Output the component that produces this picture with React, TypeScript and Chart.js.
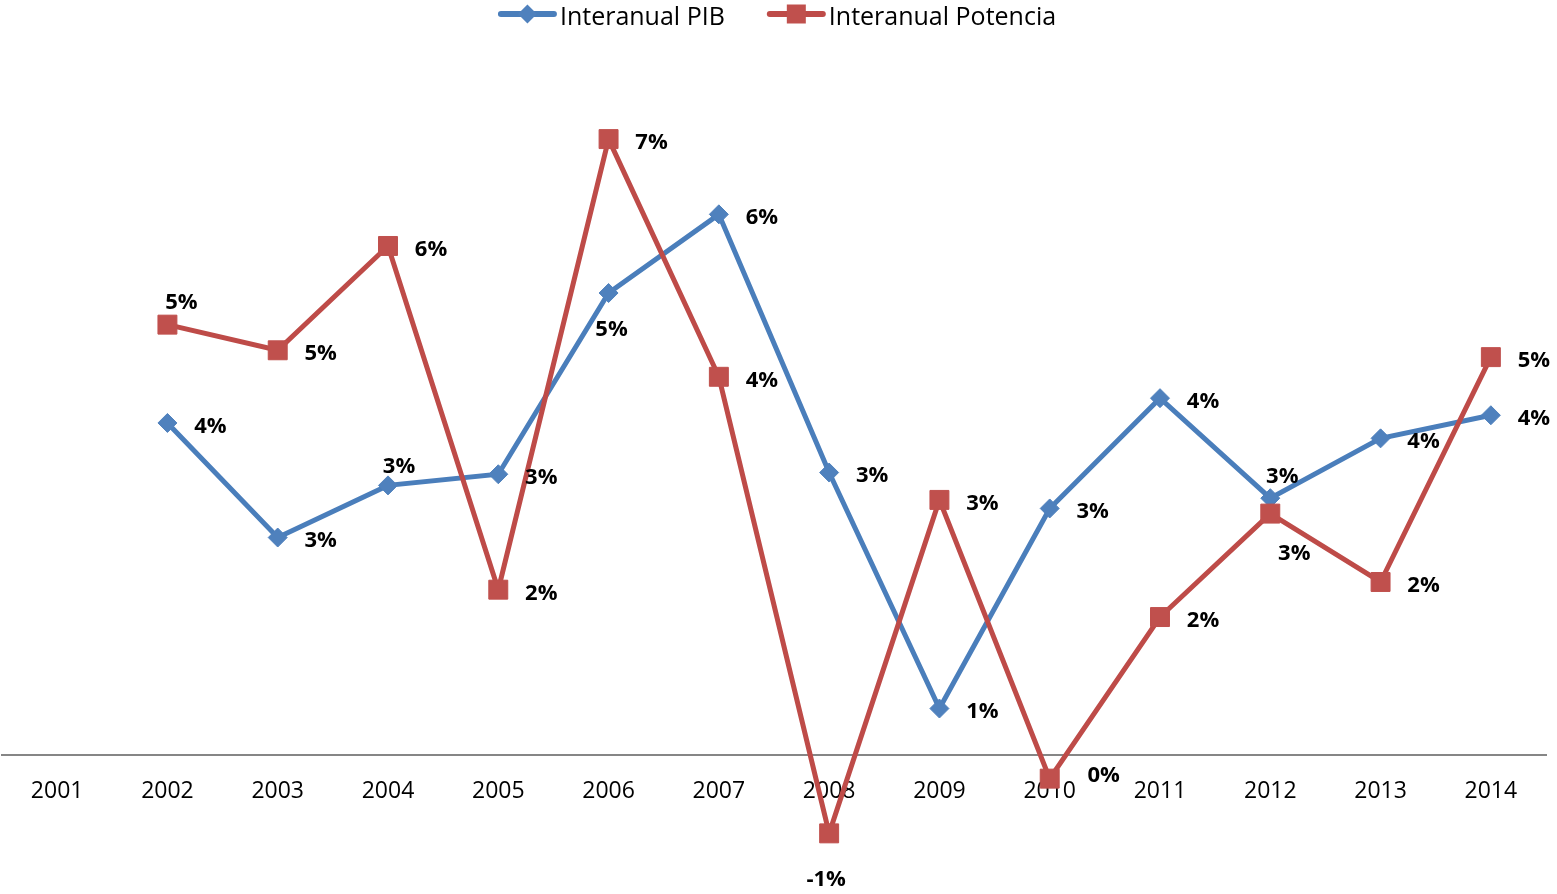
import React, { useEffect, useRef } from 'react';
import { Chart, registerables } from 'chart.js';

Chart.register(...registerables);

// ---------- data ----------
const years = ['2001', '2002', '2003', '2004', '2005', '2006', '2007', '2008', '2009', '2010', '2011', '2012', '2013', '2014'];
const pibInteranual: (number | null)[] = [null, 3.88, 2.54, 3.15, 3.28, 5.4, 6.32, 3.3, 0.54, 2.88, 4.17, 3.0, 3.7, 3.97];
const potenciaInteranual: (number | null)[] = [null, 5.03, 4.73, 5.95, 1.93, 7.2, 4.42, -0.92, 2.98, -0.28, 1.61, 2.82, 2.02, 4.65];
const seriesLabels = ['Interanual PIB', 'Interanual Potencia'];
const yAxisMin = -1;
const yAxisMax = 8;

// ---------- styles ----------
const BLUE = '#4A7EBB';
const RED = '#BE4B48';
const FONT = '"Open Sans", "Noto Sans", sans-serif';

// label placement relative to each point (null = default, right of the point)
const R = null;
const DEFAULT_OFFSET: [number, number] = [43, 2];
const pibLabelOffsets: ([number, number] | null)[] = [R, R, R, [11, -20], R, [3, 35], R, R, R, R, R, [12, -23], R, R];
const potenciaLabelOffsets: ([number, number] | null)[] = [R, [14, -23], R, R, R, R, R, [-3, 45], R, [54, -4], R, [24, 39], R, R];
const labelOffsets = [pibLabelOffsets, potenciaLabelOffsets];

const fmtPct = (v: number) => `${Math.round(v) + 0}%`;

function drawMarker(ctx: CanvasRenderingContext2D, style: string, color: string, x: number, y: number) {
  ctx.fillStyle = color;
  ctx.beginPath();
  if (style === 'rectRot') {
    const r = 9.5;
    ctx.moveTo(x - r, y);
    ctx.lineTo(x, y - r);
    ctx.lineTo(x + r, y);
    ctx.lineTo(x, y + r);
    ctx.closePath();
  } else {
    const h = 9.5;
    ctx.rect(x - h, y - h, 2 * h, 2 * h);
  }
  ctx.fill();
}

const dataLabelPlugin = {
  id: 'pctLabels',
  afterDatasetsDraw(chart: any) {
    const ctx: CanvasRenderingContext2D = chart.ctx;
    const size = 22;
    ctx.save();
    ctx.font = `bold ${size}px ${FONT}`;
    ctx.fillStyle = '#000';
    ctx.textAlign = 'center';
    ctx.textBaseline = 'alphabetic';
    chart.data.datasets.forEach((ds: any, di: number) => {
      const meta = chart.getDatasetMeta(di);
      meta.data.forEach((el: any, i: number) => {
        const v = ds.data[i];
        if (v === null || v === undefined) return;
        const [dx, dy] = labelOffsets[di][i] || DEFAULT_OFFSET;
        ctx.fillText(fmtPct(v), el.x + dx, el.y + dy + size * 0.357);
      });
    });
    ctx.restore();
  },
};

const legendPlugin = {
  id: 'lineMarkerLegend',
  afterDraw(chart: any) {
    const ctx: CanvasRenderingContext2D = chart.ctx;
    const size = 25;
    const lineLen = 59;
    const textGap = 3;
    const itemGap = 42;
    ctx.save();
    ctx.font = `${size}px ${FONT}`;
    const datasets = [...chart.data.datasets];
    const items = datasets.map((ds: any) => ({ ds, tw: ctx.measureText(ds.label).width }));
    const total = items.reduce((s: number, it: any) => s + lineLen + textGap + it.tw, 0) + itemGap * (items.length - 1);
    let x = chart.width / 2 - 1.5 - total / 2;
    const yLine = 14;
    const yText = 25;
    items.forEach(({ ds, tw }: any) => {
      ctx.strokeStyle = ds.borderColor;
      ctx.lineWidth = 6;
      ctx.lineCap = 'round';
      ctx.beginPath();
      ctx.moveTo(x + 3, yLine);
      ctx.lineTo(x + lineLen - 3, yLine);
      ctx.stroke();
      drawMarker(ctx, ds.pointStyle, ds.pointBackgroundColor, x + lineLen / 2, yLine);
      ctx.fillStyle = '#000';
      ctx.textAlign = 'left';
      ctx.textBaseline = 'alphabetic';
      ctx.fillText(ds.label, x + lineLen + textGap, yText);
      x += lineLen + textGap + tw + itemGap;
    });
    ctx.restore();
  },
};

export default function App() {
  const canvasRef = useRef<HTMLCanvasElement | null>(null);

  useEffect(() => {
    if (!canvasRef.current) return;
    const chart = new Chart(canvasRef.current, {
      type: 'line',
      data: {
        labels: years,
        datasets: [
          {
            label: seriesLabels[0],
            data: pibInteranual,
            borderColor: BLUE,
            backgroundColor: BLUE,
            borderWidth: 5,
            pointStyle: 'rectRot',
            pointRadius: 9.5,
            pointBorderWidth: 1,
            pointBackgroundColor: '#4F81BD',
            pointBorderColor: '#4F81BD',
            tension: 0,
            clip: false,
            order: 1,
          },
          {
            label: seriesLabels[1],
            data: potenciaInteranual,
            borderColor: RED,
            backgroundColor: RED,
            borderWidth: 5,
            pointStyle: 'rect',
            pointRadius: 13.4,
            pointBorderWidth: 1,
            pointBackgroundColor: '#C0504D',
            pointBorderColor: '#C0504D',
            tension: 0,
            clip: false,
            order: 0,
          },
        ] as any,
      },
      options: {
        animation: false,
        responsive: false,
        devicePixelRatio: 1,
        events: [],
        layout: { autoPadding: false, padding: { top: 70.7, bottom: 53.8, left: 2, right: 11 } },
        plugins: {
          legend: { display: false },
          tooltip: { enabled: false },
          title: { display: false },
        },
        scales: {
          x: {
            type: 'category',
            offset: true,
            position: { y: 0 } as any,
            grid: { display: false, drawTicks: false },
            border: { display: true, color: '#868686', width: 2 },
            ticks: {
              color: '#000',
              font: { family: FONT, size: 23 },
              padding: 23,
              maxRotation: 0,
              autoSkip: false,
            },
          },
          y: {
            display: false,
            min: yAxisMin,
            max: yAxisMax,
          },
        },
      },
      plugins: [dataLabelPlugin, legendPlugin],
    });
    return () => chart.destroy();
  }, []);

  return (
    <div style={{ position: 'absolute', left: 0, top: 0, width: 1557, height: 894, background: '#fff' }}>
      <canvas ref={canvasRef} width={1557} height={894} style={{ display: 'block' }} />
    </div>
  );
}
